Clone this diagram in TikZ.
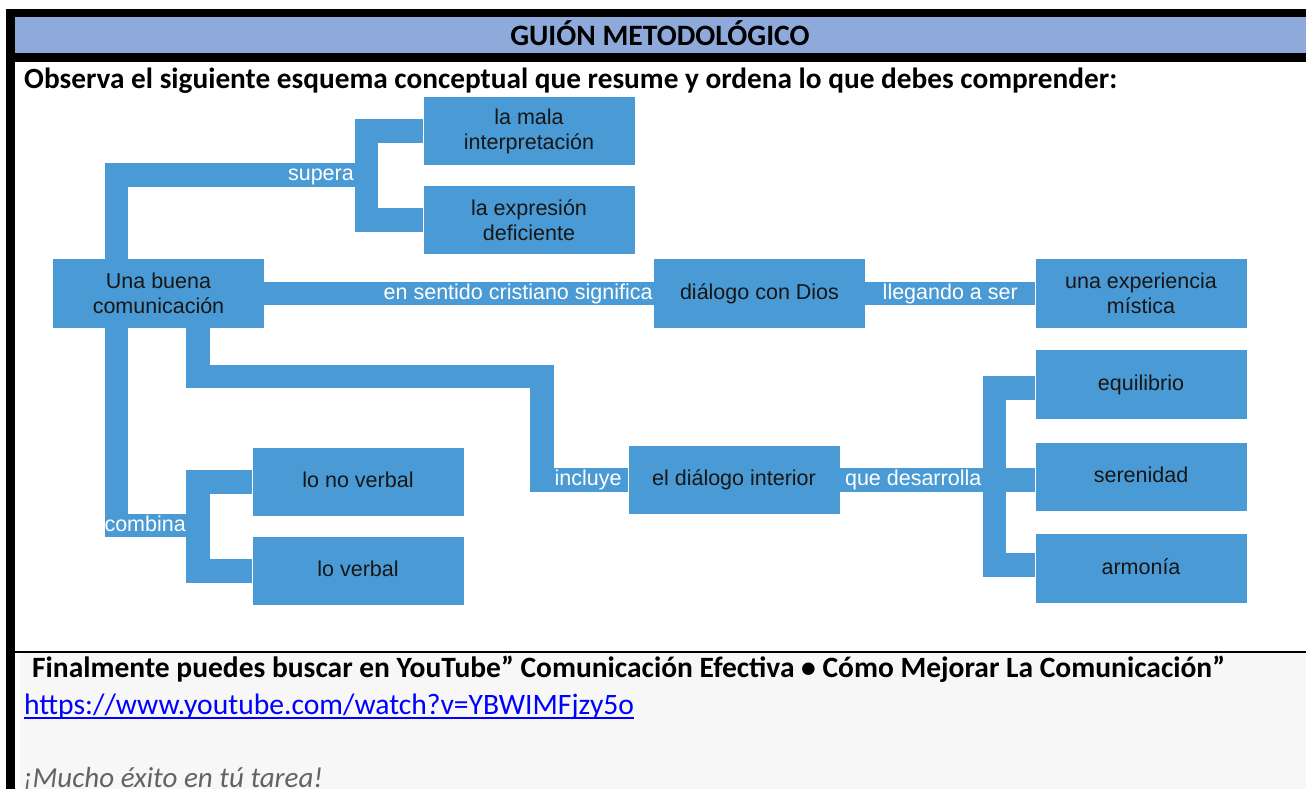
\documentclass[tikz,border=0pt]{standalone}
\usepackage{fontspec}
\setmainfont{Carlito}
\newfontfamily\diagfont{Liberation Sans}
\usetikzlibrary{calc}
\definecolor{boxblue}{HTML}{4A9BD5}
\definecolor{headblue}{HTML}{8EAADB}
\definecolor{darktext}{HTML}{161616}
\definecolor{linkblue}{HTML}{0000FF}
\definecolor{notegray}{HTML}{636363}
\definecolor{bggray}{HTML}{F7F7F7}
\begin{document}
\begin{tikzpicture}[x=1pt,y=-1pt,
  box/.style={fill=boxblue, draw=none, minimum width=211pt, minimum height=68.5pt,
    inner sep=0pt, align=center, text=darktext,
    font=\diagfont\fontsize{21.5}{25}\selectfont},
  band/.style={draw=boxblue, line width=23.5pt, line join=miter, line cap=butt},
  lbl/.style={text=white, inner sep=0pt, font=\diagfont\fontsize{21.5}{25}\selectfont},
  doc/.style={inner sep=0pt, anchor=base west, font=\fontsize{29.4}{34}\selectfont}]
\useasboundingbox (0,0) rectangle (1306,789);
\fill[white] (0,0) rectangle (1306,789);
% frame
\fill[black] (6,9) rectangle (1306,17);
\fill[headblue] (15,17) rectangle (1306,53);
\fill[black] (6,53) rectangle (1306,62);
\fill[black] (6,17) rectangle (15,789);
\fill[bggray] (20,653) rectangle (1306,789);
\fill[black] (15,651) rectangle (1306,653);
% document texts
\node[inner sep=0pt, anchor=base, font=\bfseries\fontsize{29.6}{34}\selectfont] (title) at (660,46) {GUIÓN METODOLÓGICO};
\node[doc, font=\bfseries\fontsize{29.3}{34}\selectfont] (intro) at (24,89) {Observa el siguiente esquema conceptual que resume y ordena lo que debes comprender:};
\node[doc, font=\bfseries\fontsize{29.5}{34}\selectfont] (final) at (32,677) {Finalmente puedes buscar en YouTube” Comunicación Efectiva • Cómo Mejorar La Comunicación”};
\node[doc, text=linkblue, font=\fontsize{29.6}{34}\selectfont] (link) at (24,714) {https://www.youtube.com/watch?v=YBWIMFjzy5o};
\draw[linkblue, line width=1.3pt] ([yshift=-4pt]link.base west) -- ([yshift=-4pt]link.base east);
\node[doc, text=notegray, font=\itshape\fontsize{29}{34}\selectfont] (luck) at (23,787) {¡Mucho éxito en tú tarea!};
% boxes
\node[box] (mala) at (529,131) {la mala\\interpretación};
\node[box] (expr) at (529,220) {la expresión\\deficiente};
\node[box] (ubc) at (158.5,293.5) {Una buena\\comunicación};
\node[box] (dios) at (759.5,293.5) {diálogo con Dios\vphantom{dg}};
\node[box] (exp) at (1141,293.5) {una experiencia\\mística};
\node[box] (equi) at (1141,384.5) {equilibrio\vphantom{dg}};
\node[box] (sere) at (1141,477) {serenidad\vphantom{dg}};
\node[box] (arm) at (1141,568.5) {armonía\vphantom{dg}};
\node[box] (inter) at (734,480) {el diálogo interior\vphantom{dg}};
\node[box] (nv) at (358,482) {lo no verbal\vphantom{dg}};
\node[box] (vb) at (358,571) {lo verbal\vphantom{dg}};
% junction points
\coordinate (a1) at (116.5,175);
\coordinate (j1) at (366.5,175);
\coordinate (c1) at (198,376.5);
\coordinate (c2) at (542,376.5);
\coordinate (c3) at (542,480);
\coordinate (d1) at (116.5,525.5);
\coordinate (d2) at (198,525.5);
\coordinate (f1) at (994.5,388);
\coordinate (f2) at (994.5,565);
% connectors
\draw[band] (ubc.north -| a1) -- (a1) -- (j1);
\draw[band] (mala.west) -- (mala.west -| j1) -- (expr.west -| j1) -- (expr.west);
\draw[band] (ubc.east) -- (dios.west);
\draw[band] (dios.east) -- (exp.west);
\draw[band] (ubc.south -| c1) -- (c1) -- (c2) -- (c3) -- (inter.west);
\draw[band] (ubc.south -| d1) -- (d1) -- (d2);
\draw[band] (nv.west) -- (nv.west -| d2) -- (vb.west -| d2) -- (vb.west);
\draw[band] (inter.east) -- (inter.east -| f1);
\draw[band] (f1 -| equi.west) -- (f1) -- (f2) -- (f2 -| arm.west);
\draw[band] (inter.east -| f1) -- (inter.east -| sere.west);
% connector labels
\node[lbl, anchor=east] (lsup) at ([xshift=-12.5pt]j1) {supera\vphantom{dg}};
\node[lbl, anchor=east] (lcri) at ([xshift=-1pt]dios.west) {en sentido cristiano significa\vphantom{dg}};
\node[lbl] (llle) at ($(dios.east)!0.5!(exp.west)$) {llegando a ser\vphantom{dg}};
\node[lbl, anchor=west] (linc) at ([xshift=12.5pt]c3) {incluye\vphantom{dg}};
\node[lbl, anchor=east] (lcom) at ([xshift=-12pt]d2) {combina\vphantom{dg}};
\node[lbl, anchor=east] (lque) at ([xshift=-13pt]inter.east -| f1) {que desarrolla\vphantom{dg}};
\end{tikzpicture}
\end{document}
